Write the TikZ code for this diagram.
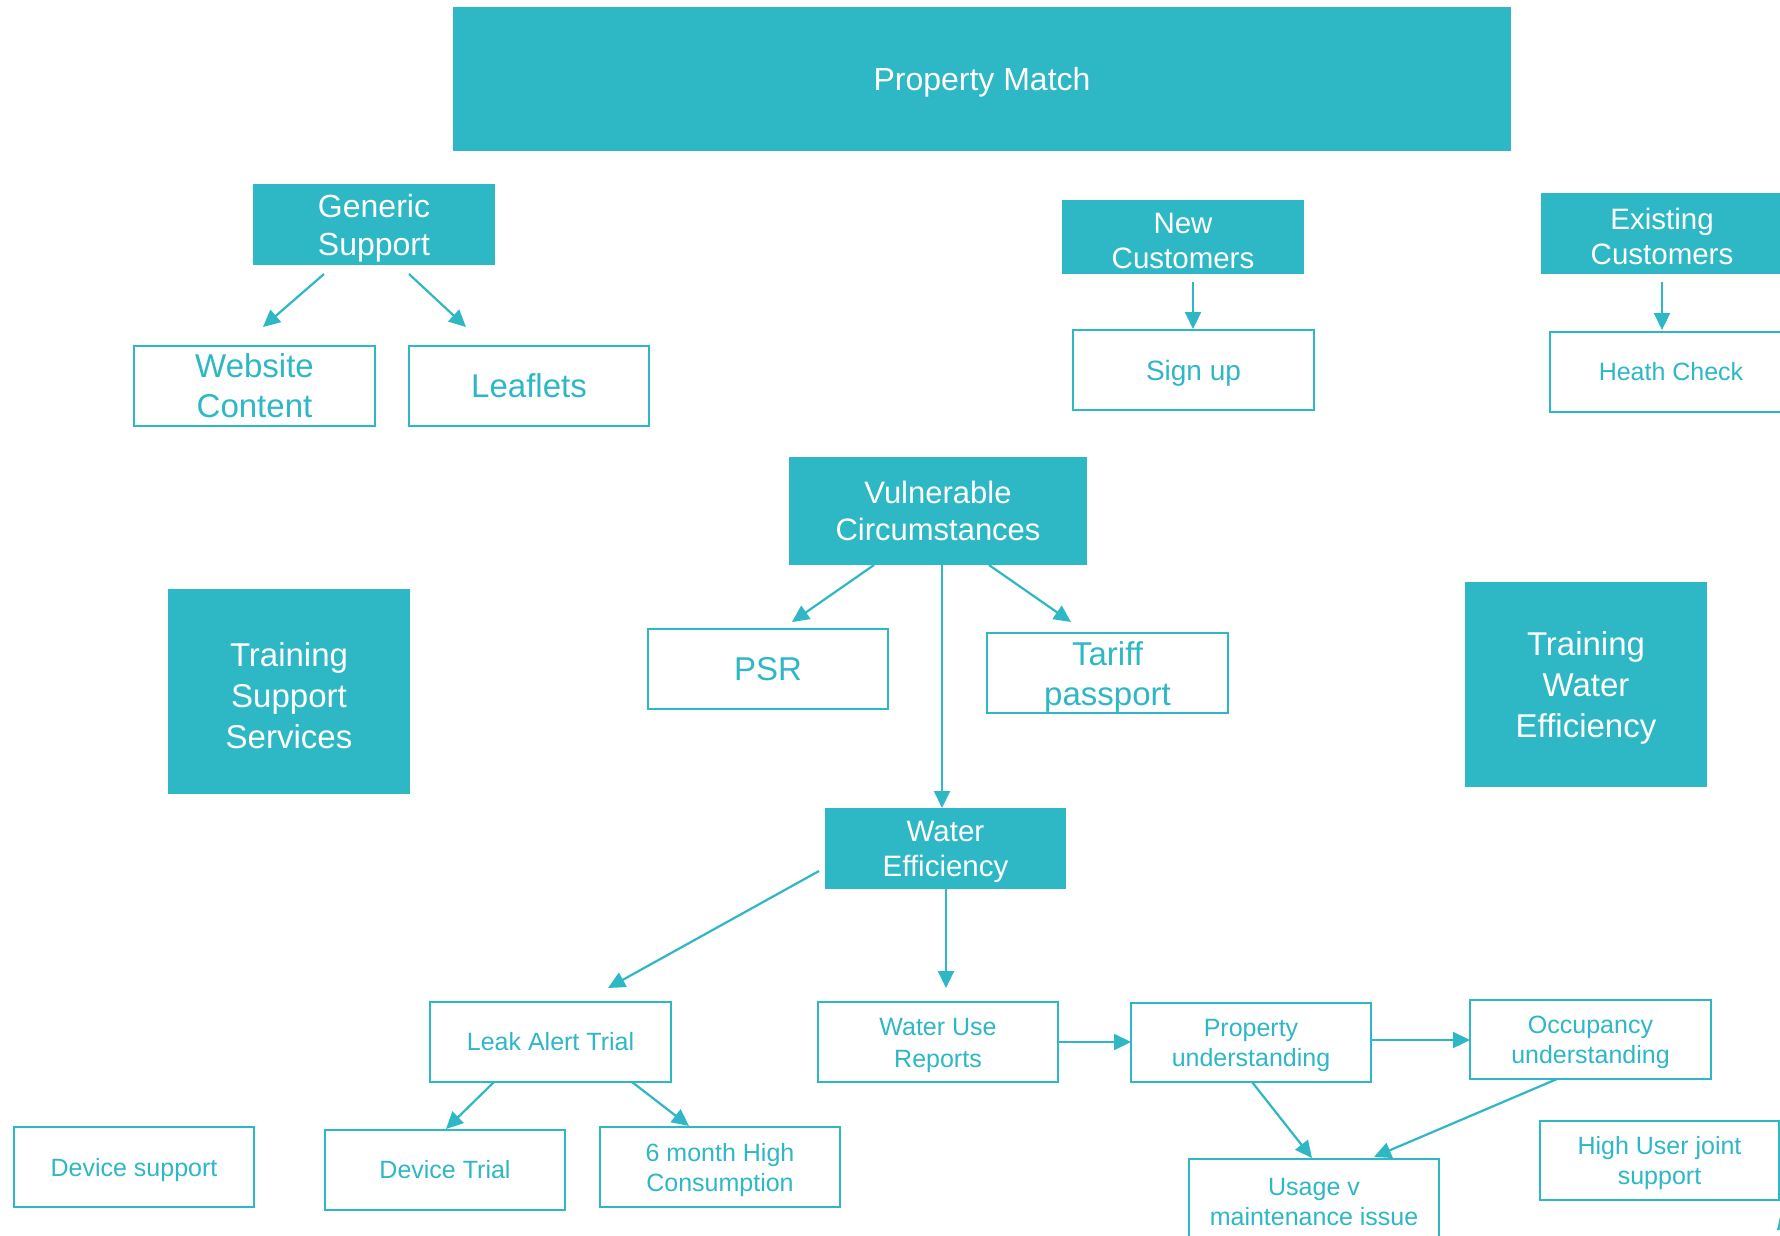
\documentclass[tikz,border=0pt]{standalone}
\usepackage{fontspec}
\setmainfont{Liberation Sans}
\usetikzlibrary{arrows.meta,calc}
\definecolor{teal1}{RGB}{46,183,197}
\newcommand\tdown{\rule{0pt}{0.95em}}
\begin{document}
\begin{tikzpicture}[x=1pt,y=-1pt,
  filled/.style={fill=teal1, draw=none, text=white, align=center, inner sep=0pt, outer sep=0pt},
  outlined/.style={fill=white, draw=teal1, line width=2.5pt, text=teal1, align=center, inner sep=0pt, outer sep=0pt},
  arr/.style={draw=teal1, line width=2.2pt, -{Triangle[length=17pt,width=16pt]}},
  fa/.style={font=\fontsize{25}{30}\selectfont},
  fb/.style={font=\fontsize{29.5}{35}\selectfont},
  fc/.style={font=\fontsize{32}{38}\selectfont},
  fd/.style={font=\fontsize{33}{40}\selectfont},
  ]
\useasboundingbox (0,0) rectangle (1780,1235);
\clip (0,0) rectangle (1780,1235);
\fill[white] (0,0) rectangle (1780,1235);

% filled boxes
\node[filled, fc, minimum width=1058pt, minimum height=144pt] (pm) at (982,79) {\tdown Property Match};
\node[filled, fc, minimum width=242pt, minimum height=81pt] (gs) at (374,224.5) {\tdown Generic\\Support};
\node[filled, fb, minimum width=242pt, minimum height=74pt] (nc) at (1183,237) {\tdown New\\Customers};
\node[filled, fb, minimum width=242pt, minimum height=81pt] (ec) at (1662,233.5) {\tdown Existing\\Customers};
\node[filled, font=\fontsize{31}{37}\selectfont, minimum width=298pt, minimum height=108pt] (vc) at (938,511) {Vulnerable\\Circumstances};
\node[filled, font=\fontsize{33}{41}\selectfont, minimum width=242pt, minimum height=205pt] (tss) at (289,691.5) {\tdown Training\\Support\\Services};
\node[filled, font=\fontsize{33}{41}\selectfont, minimum width=242pt, minimum height=205pt] (twe) at (1586,684.5) {\tdown Training\\Water\\Efficiency};
\node[filled, fb, minimum width=241pt, minimum height=81pt] (we) at (945.5,848.5) {\tdown Water\\Efficiency};

% outlined boxes
\node[outlined, fd, minimum width=241pt, minimum height=80pt] (wc) at (254.5,386) {Website\\Content};
\node[outlined, fd, minimum width=240pt, minimum height=80pt] (lf) at (529,386) {Leaflets};
\node[outlined, font=\fontsize{28}{34}\selectfont, minimum width=241pt, minimum height=80pt] (su) at (1193.5,370) {\tdown Sign up};
\node[outlined, fa, minimum width=242pt, minimum height=80pt] (hc) at (1671,372) {Heath Check};
\node[outlined, fd, minimum width=240pt, minimum height=80pt] (psr) at (768,669) {PSR};
\node[outlined, fd, minimum width=241pt, minimum height=80pt] (tp) at (1107.5,673) {\tdown Tariff\\passport};
\node[outlined, fa, minimum width=241pt, minimum height=80pt] (lat) at (550.5,1042) {Leak Alert Trial};
\node[outlined, font=\fontsize{25}{32}\selectfont, minimum width=240pt, minimum height=80pt] (wur) at (938,1042) {\tdown Water Use\\Reports};
\node[outlined, fa, minimum width=240pt, minimum height=79pt] (pu) at (1251,1042.5) {\tdown Property\\understanding};
\node[outlined, fa, minimum width=241pt, minimum height=79pt] (ou) at (1590.5,1039.5) {\tdown Occupancy\\understanding};
\node[outlined, fa, minimum width=240pt, minimum height=80pt] (ds) at (134,1167) {\tdown Device support};
\node[outlined, fa, minimum width=240pt, minimum height=80pt] (dt) at (445,1170) {Device Trial};
\node[outlined, fa, minimum width=240pt, minimum height=80pt] (sm) at (720,1167) {\tdown 6 month High\\Consumption};
\node[outlined, fa, minimum width=250pt, minimum height=80pt] (uv) at (1314,1199) {\tdown Usage v\\maintenance issue};
\node[outlined, fa, minimum width=239pt, minimum height=79pt] (hu) at (1659.5,1160.5) {\tdown High User joint\\support};

% connectors
\draw[arr] ($(gs.south)+(-50,9)$) -- ($(wc.north)+(8.5,-19)$);
\draw[arr] ($(gs.south)+(35,9)$) -- ($(lf.north)+(-63,-19)$);
\draw[arr] ($(nc.south)+(10,8)$) -- ($(su.north)+(-0.5,-1)$);
\draw[arr] ($(ec.south)+(0,8)$) -- ($(hc.north)+(-9,-2)$);
\draw[arr] ($(vc.south)+(-64,0)$) -- ($(psr.north)+(24,-7)$);
\draw[arr] ($(vc.south)+(51,0)$) -- ($(tp.north)+(-36.5,-11)$);
\draw[arr] ($(vc.south)+(4,0)$) -- ($(we.north)+(-3.5,0)$);
\draw[arr] ($(we.west)+(-6,22.5)$) -- ($(lat.north)+(57.5,-14)$);
\draw[arr] ($(we.south)+(0.5,0)$) -- ($(wur.north)+(8,-14)$);
\draw[arr] (wur.east) -- ($(pu.west)+(0,-0.5)$);
\draw[arr] ($(pu.east)+(0,-2.5)$) -- ($(ou.west)+(0,0.5)$);
\draw[arr] ($(pu.south)+(1,0)$) -- ($(uv.north)+(-2,-1)$);
\draw[arr] ($(ou.south)+(-33.5,0)$) -- ($(uv.north)+(60,-2)$);
\draw[arr] ($(lat.south)+(-56.5,0)$) -- ($(dt.north)+(1,-1)$);
\draw[arr] ($(lat.south)+(81.5,0)$) -- ($(sm.north)+(-31,-1)$);
\coordinate (hufoot) at (1800,1290);
\draw[arr] (hufoot) -- ($(hu.south)+(121.5,12)$);
\end{tikzpicture}
\end{document}
